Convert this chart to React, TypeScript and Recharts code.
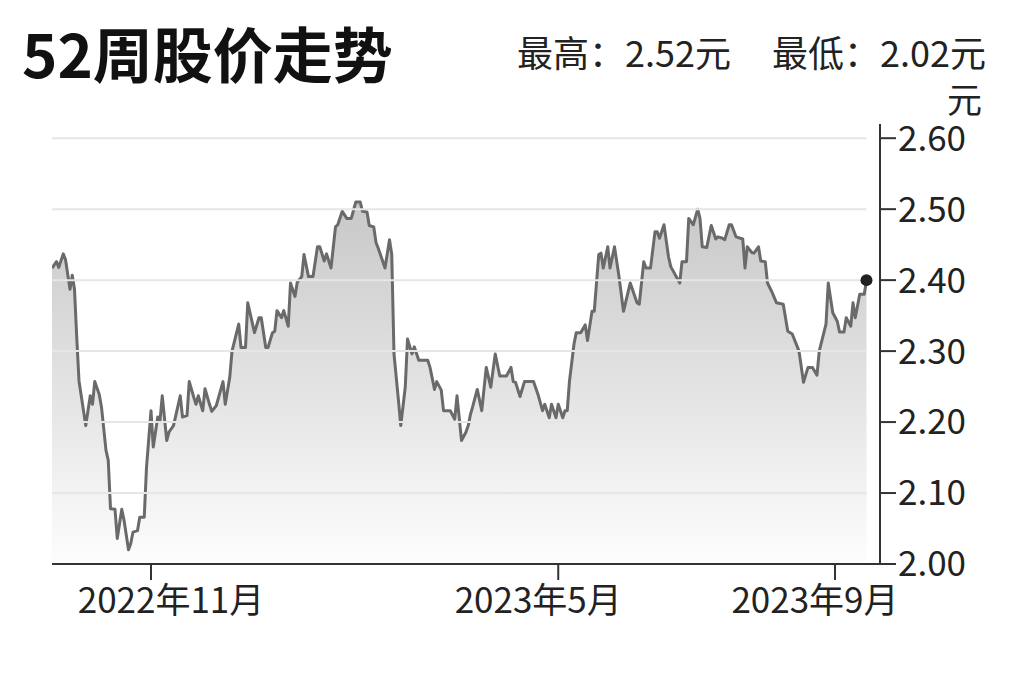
import { Area, AreaChart, ReferenceDot, ReferenceLine, XAxis, YAxis } from 'recharts'

// 52 weeks, day 0 = 2022-09-18
const days = [
  0, 2, 3, 5, 6, 8, 9, 10, 11, 12, 15, 17, 18, 19, 21, 22, 24, 25, 26, 28, 29, 31, 32, 34, 35, 36, 38, 39, 41, 42,
  44, 45, 47, 48, 49, 51, 52, 54, 57, 58, 60, 61, 63, 64, 65, 67, 68, 70, 71, 73, 76, 77, 79, 80, 83, 84, 86, 87,
  90, 92, 93, 95, 96, 98, 99, 100, 102, 103, 105, 106, 108, 109, 111, 112, 114, 116, 118, 119, 121, 122, 124,
  126, 127, 129, 131, 133, 135, 137, 138, 140, 141, 143, 144, 145, 148, 150, 151, 152, 154, 155, 157, 158, 160,
  161, 163, 167, 168, 170, 171, 173, 174, 177, 179, 180, 182, 184, 185, 186, 187, 189, 191, 193, 195, 197, 199,
  202, 204, 205, 206, 208, 210, 214, 216, 218, 219, 221, 222, 224, 225, 227, 228, 229, 230, 232, 233, 235, 237,
  238, 240, 241, 243, 244, 245, 247, 248, 250, 252, 254, 257, 260, 261, 263, 264, 266, 268, 269, 270, 272, 274,
  275, 279, 280, 282, 283, 285, 287, 288, 289, 291, 293, 295, 296, 298, 299, 301, 302, 304, 307, 308, 309, 311,
  312, 314, 315, 317, 318, 320, 322, 325, 327, 329, 332, 334, 336, 338, 340, 341, 344, 345, 347, 349, 350, 352,
  353, 355, 356, 357, 359, 361, 362,
]

const prices = [
  2.417, 2.426, 2.418, 2.437, 2.429, 2.387, 2.407, 2.387, 2.319, 2.258, 2.195, 2.237, 2.225, 2.257, 2.239, 2.221,
  2.16, 2.146, 2.078, 2.077, 2.036, 2.077, 2.062, 2.02, 2.029, 2.045, 2.047, 2.066, 2.066, 2.136,
  2.216, 2.165, 2.207, 2.202, 2.237, 2.174, 2.186, 2.195, 2.237, 2.207, 2.209, 2.257, 2.235, 2.225, 2.237, 2.216,
  2.247, 2.225, 2.215, 2.223, 2.257, 2.225, 2.263, 2.3, 2.338, 2.305, 2.305, 2.368,
  2.326, 2.347, 2.347, 2.305, 2.305, 2.326, 2.328, 2.357, 2.347, 2.357, 2.335, 2.396, 2.377, 2.397, 2.405, 2.436,
  2.405, 2.405, 2.447, 2.447, 2.427, 2.437, 2.417,
  2.475, 2.478, 2.497, 2.487, 2.487, 2.51, 2.51, 2.497, 2.496, 2.477, 2.475, 2.453, 2.445, 2.417, 2.457, 2.436,
  2.296, 2.23, 2.195, 2.249, 2.317, 2.296,
  2.306, 2.287, 2.287, 2.277, 2.246, 2.257, 2.245, 2.216, 2.216, 2.204, 2.237, 2.174, 2.186, 2.195, 2.211, 2.222,
  2.246, 2.216, 2.277, 2.249, 2.296, 2.265,
  2.265, 2.277, 2.257, 2.256, 2.236, 2.257, 2.257, 2.239, 2.216, 2.225, 2.206, 2.225, 2.206, 2.225, 2.206, 2.216,
  2.216, 2.258, 2.31, 2.326, 2.326, 2.337,
  2.315, 2.356, 2.356, 2.436, 2.438, 2.417, 2.447, 2.417, 2.447, 2.405, 2.356, 2.396, 2.368, 2.366, 2.426, 2.417,
  2.417, 2.468, 2.468, 2.459, 2.478, 2.433,
  2.419, 2.396, 2.426, 2.426, 2.487, 2.478, 2.5, 2.487, 2.447, 2.446, 2.477, 2.458, 2.461, 2.459, 2.457, 2.478,
  2.478, 2.461, 2.458, 2.417, 2.447, 2.439,
  2.438, 2.447, 2.427, 2.426, 2.396, 2.383, 2.368, 2.366, 2.328, 2.324, 2.3, 2.256, 2.277, 2.277, 2.266, 2.3,
  2.338, 2.396, 2.354, 2.342, 2.327, 2.327,
  2.347, 2.335, 2.368, 2.347, 2.38, 2.38, 2.4,
]

const tickDays = [44, 225, 348]
const tickLabels = ['2022年11月', '2023年5月', '2023年9月']
const priceTicks = [2.0, 2.1, 2.2, 2.3, 2.4, 2.5, 2.6]
const highPrice = '2.52'
const lowPrice = '2.02'

const data = days.map((day, i) => ({ day, price: prices[i] }))
const lastDay = days[days.length - 1]
const lastPrice = prices[prices.length - 1]

const FONT = '"Noto Sans CJK SC", "Noto Sans", sans-serif'
// label nudges so the month text sits where the original puts it
const labelShift = [20, -20, -20]

function MonthTick({ x, y, payload }: any) {
  const idx = tickDays.indexOf(payload.value)
  return (
    <text x={x + labelShift[idx]} y={y} dy={31} textAnchor="middle" fontSize={35} fill="#222" fontFamily={FONT}>
      {tickLabels[idx]}
    </text>
  )
}

export default function App() {
  return (
    <div style={{ position: 'absolute', left: 0, top: 0, width: 1024, height: 682, background: '#fff', fontFamily: FONT }}>
      <div style={{ position: 'absolute', left: 22, top: 22, fontSize: 60, fontWeight: 700, lineHeight: 1, color: '#111' }}>
        52周股价走势
      </div>
      <div style={{ position: 'absolute', left: 517, top: 33, fontSize: 36, lineHeight: 1, color: '#222' }}>
        最高：{highPrice}元
      </div>
      <div style={{ position: 'absolute', left: 772, top: 33, fontSize: 36, lineHeight: 1, color: '#222' }}>
        最低：{lowPrice}元
      </div>
      <div style={{ position: 'absolute', left: 947, top: 80, fontSize: 35, lineHeight: 1, color: '#222' }}>元</div>

      <div style={{ position: 'absolute', left: 0, top: 0 }}>
        <AreaChart width={1024} height={682} data={data} margin={{ top: 124, right: 44, bottom: 58, left: 52 }}>
          <defs>
            <linearGradient id="priceFill" x1="0" y1="0" x2="0" y2="1">
              <stop offset="0%" stopColor="#c8c8c8" />
              <stop offset="100%" stopColor="#fdfdfd" />
            </linearGradient>
          </defs>
          <XAxis
            type="number"
            dataKey="day"
            domain={[0, 368]}
            ticks={tickDays}
            tick={<MonthTick />}
            tickSize={16}
            height={60}
            axisLine={{ stroke: '#333', strokeWidth: 2 }}
            tickLine={{ stroke: '#333', strokeWidth: 2 }}
            allowDataOverflow
          />
          <YAxis
            orientation="right"
            domain={[2.0, 2.62]}
            ticks={priceTicks}
            tickFormatter={(v: number) => v.toFixed(2)}
            tickSize={16}
            width={100}
            tick={{ fontSize: 35, fill: '#222', fontFamily: FONT }}
            axisLine={{ stroke: '#333', strokeWidth: 2 }}
            tickLine={{ stroke: '#333', strokeWidth: 2 }}
            allowDataOverflow
          />
          <Area
            type="linear"
            dataKey="price"
            stroke="#6a6a6a"
            strokeWidth={3}
            strokeLinejoin="round"
            fill="url(#priceFill)"
            fillOpacity={1}
            dot={false}
            activeDot={false}
            isAnimationActive={false}
          />
          {priceTicks.slice(1).map((v) => (
            <ReferenceLine
              key={v}
              segment={[
                { x: 0, y: v },
                { x: lastDay, y: v },
              ]}
              stroke="#e6e6e6"
              strokeWidth={2}
            />
          ))}
          <ReferenceDot x={lastDay} y={lastPrice} r={6} fill="#222" stroke="none" />
        </AreaChart>
      </div>
    </div>
  )
}
